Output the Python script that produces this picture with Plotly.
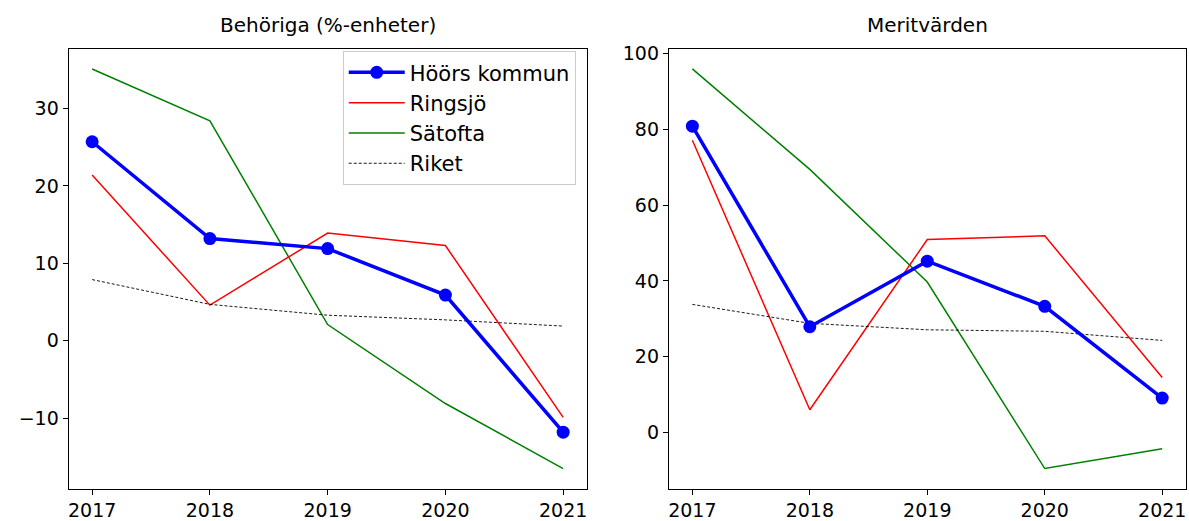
import plotly.graph_objects as go

years = [2017, 2018, 2019, 2020, 2021]

# Behöriga (%-enheter)
beh_hoor = [25.7, 13.2, 11.9, 5.9, -11.8]
beh_ringsjo = [21.4, 4.6, 13.9, 12.3, -9.9]
beh_satofta = [35.1, 28.4, 2.1, -8.1, -16.5]
beh_riket = [7.9, 4.7, 3.3, 2.7, 1.9]

# Meritvärden
mer_hoor = [80.8, 27.9, 45.2, 33.3, 9.1]
mer_ringsjo = [77.1, 6.0, 50.9, 51.9, 14.5]
mer_satofta = [95.9, 69.4, 39.7, -9.5, -4.3]
mer_riket = [33.8, 28.8, 27.1, 26.7, 24.3]

titles = ["Behöriga (%-enheter)", "Meritvärden"]
series_names = ["Höörs kommun", "Ringsjö", "Sätofta", "Riket"]
beh_ticks = [-10, 0, 10, 20, 30]
mer_ticks = [0, 20, 40, 60, 80, 100]

FONT = "DejaVu Sans"
W, H = 1189, 521

def lab(v):
    return ("\u2212" + str(-v)) if v < 0 else str(v)

fig = go.Figure()

def add_panel(xa, ya, hoor, ring, sat, riket, show):
    fig.add_trace(go.Scatter(x=years, y=sat, mode="lines", name=series_names[2],
                             line=dict(color="#008000", width=1.5),
                             xaxis=xa, yaxis=ya, showlegend=show, legendgroup="c", legendrank=3))
    fig.add_trace(go.Scatter(x=years, y=ring, mode="lines", name=series_names[1],
                             line=dict(color="#ff0000", width=1.5),
                             xaxis=xa, yaxis=ya, showlegend=show, legendgroup="b", legendrank=2))
    fig.add_trace(go.Scatter(x=years, y=riket, mode="lines", name=series_names[3],
                             line=dict(color="black", width=0.9, dash="3px,2px"),
                             xaxis=xa, yaxis=ya, showlegend=show, legendgroup="d", legendrank=4))
    fig.add_trace(go.Scatter(x=years, y=hoor, mode="lines+markers", name=series_names[0],
                             line=dict(color="#0000ff", width=3.5),
                             marker=dict(color="#0000ff", size=13),
                             xaxis=xa, yaxis=ya, showlegend=show, legendgroup="a", legendrank=1))

add_panel("x", "y", beh_hoor, beh_ringsjo, beh_satofta, beh_riket, True)
add_panel("x2", "y2", mer_hoor, mer_ringsjo, mer_satofta, mer_riket, False)

top = (H - 42.7) / H
bot = (H - 490) / H
axis_common = dict(showline=True, linecolor="black", linewidth=1.1, mirror=True,
                   ticks="outside", ticklen=5, tickwidth=1.1, tickcolor="black",
                   showgrid=False, zeroline=False,
                   tickfont=dict(family=FONT, size=19, color="black"))

fig.update_layout(
    width=W, height=H,
    margin=dict(l=0, r=0, t=0, b=0),
    paper_bgcolor="white", plot_bgcolor="white",
    font=dict(family=FONT, size=19, color="black"),
    xaxis=dict(domain=[67.7 / W, 586.7 / W], range=[2016.8, 2021.2],
               tickvals=years, ticktext=[str(y) for y in years], anchor="y", **axis_common),
    yaxis=dict(domain=[bot, top], range=[-19.08, 37.68], tickvals=beh_ticks,
               ticktext=[lab(v) for v in beh_ticks], anchor="x", **axis_common),
    xaxis2=dict(domain=[669 / W, 1186.7 / W], range=[2016.8, 2021.2],
                tickvals=years, ticktext=[str(y) for y in years], anchor="y2", **axis_common),
    yaxis2=dict(domain=[bot, top], range=[-14.77, 101.17], tickvals=mer_ticks,
                ticktext=[lab(v) for v in mer_ticks], anchor="x2", **axis_common),
    legend=dict(x=575.7 / W, xanchor="right", y=(H - 45) / H, yanchor="top",
                bgcolor="rgba(255,255,255,0.8)", bordercolor="#cccccc", borderwidth=1,
                font=dict(family=FONT, size=21, color="black"),
                tracegroupgap=0, itemwidth=56),
    annotations=[
        dict(text=titles[0], x=(67.7 + 586.7) / 2 / W, y=(H - 18) / H, xref="paper", yref="paper",
             xanchor="center", yanchor="middle", showarrow=False,
             font=dict(family=FONT, size=20, color="black")),
        dict(text=titles[1], x=(669 + 1186.7) / 2 / W, y=(H - 18) / H, xref="paper", yref="paper",
             xanchor="center", yanchor="middle", showarrow=False,
             font=dict(family=FONT, size=20, color="black")),
    ],
)

fig.write_html("out.html", config={"displayModeBar": False},
               post_script="document.body.style.margin='0';document.body.style.padding='0';")
